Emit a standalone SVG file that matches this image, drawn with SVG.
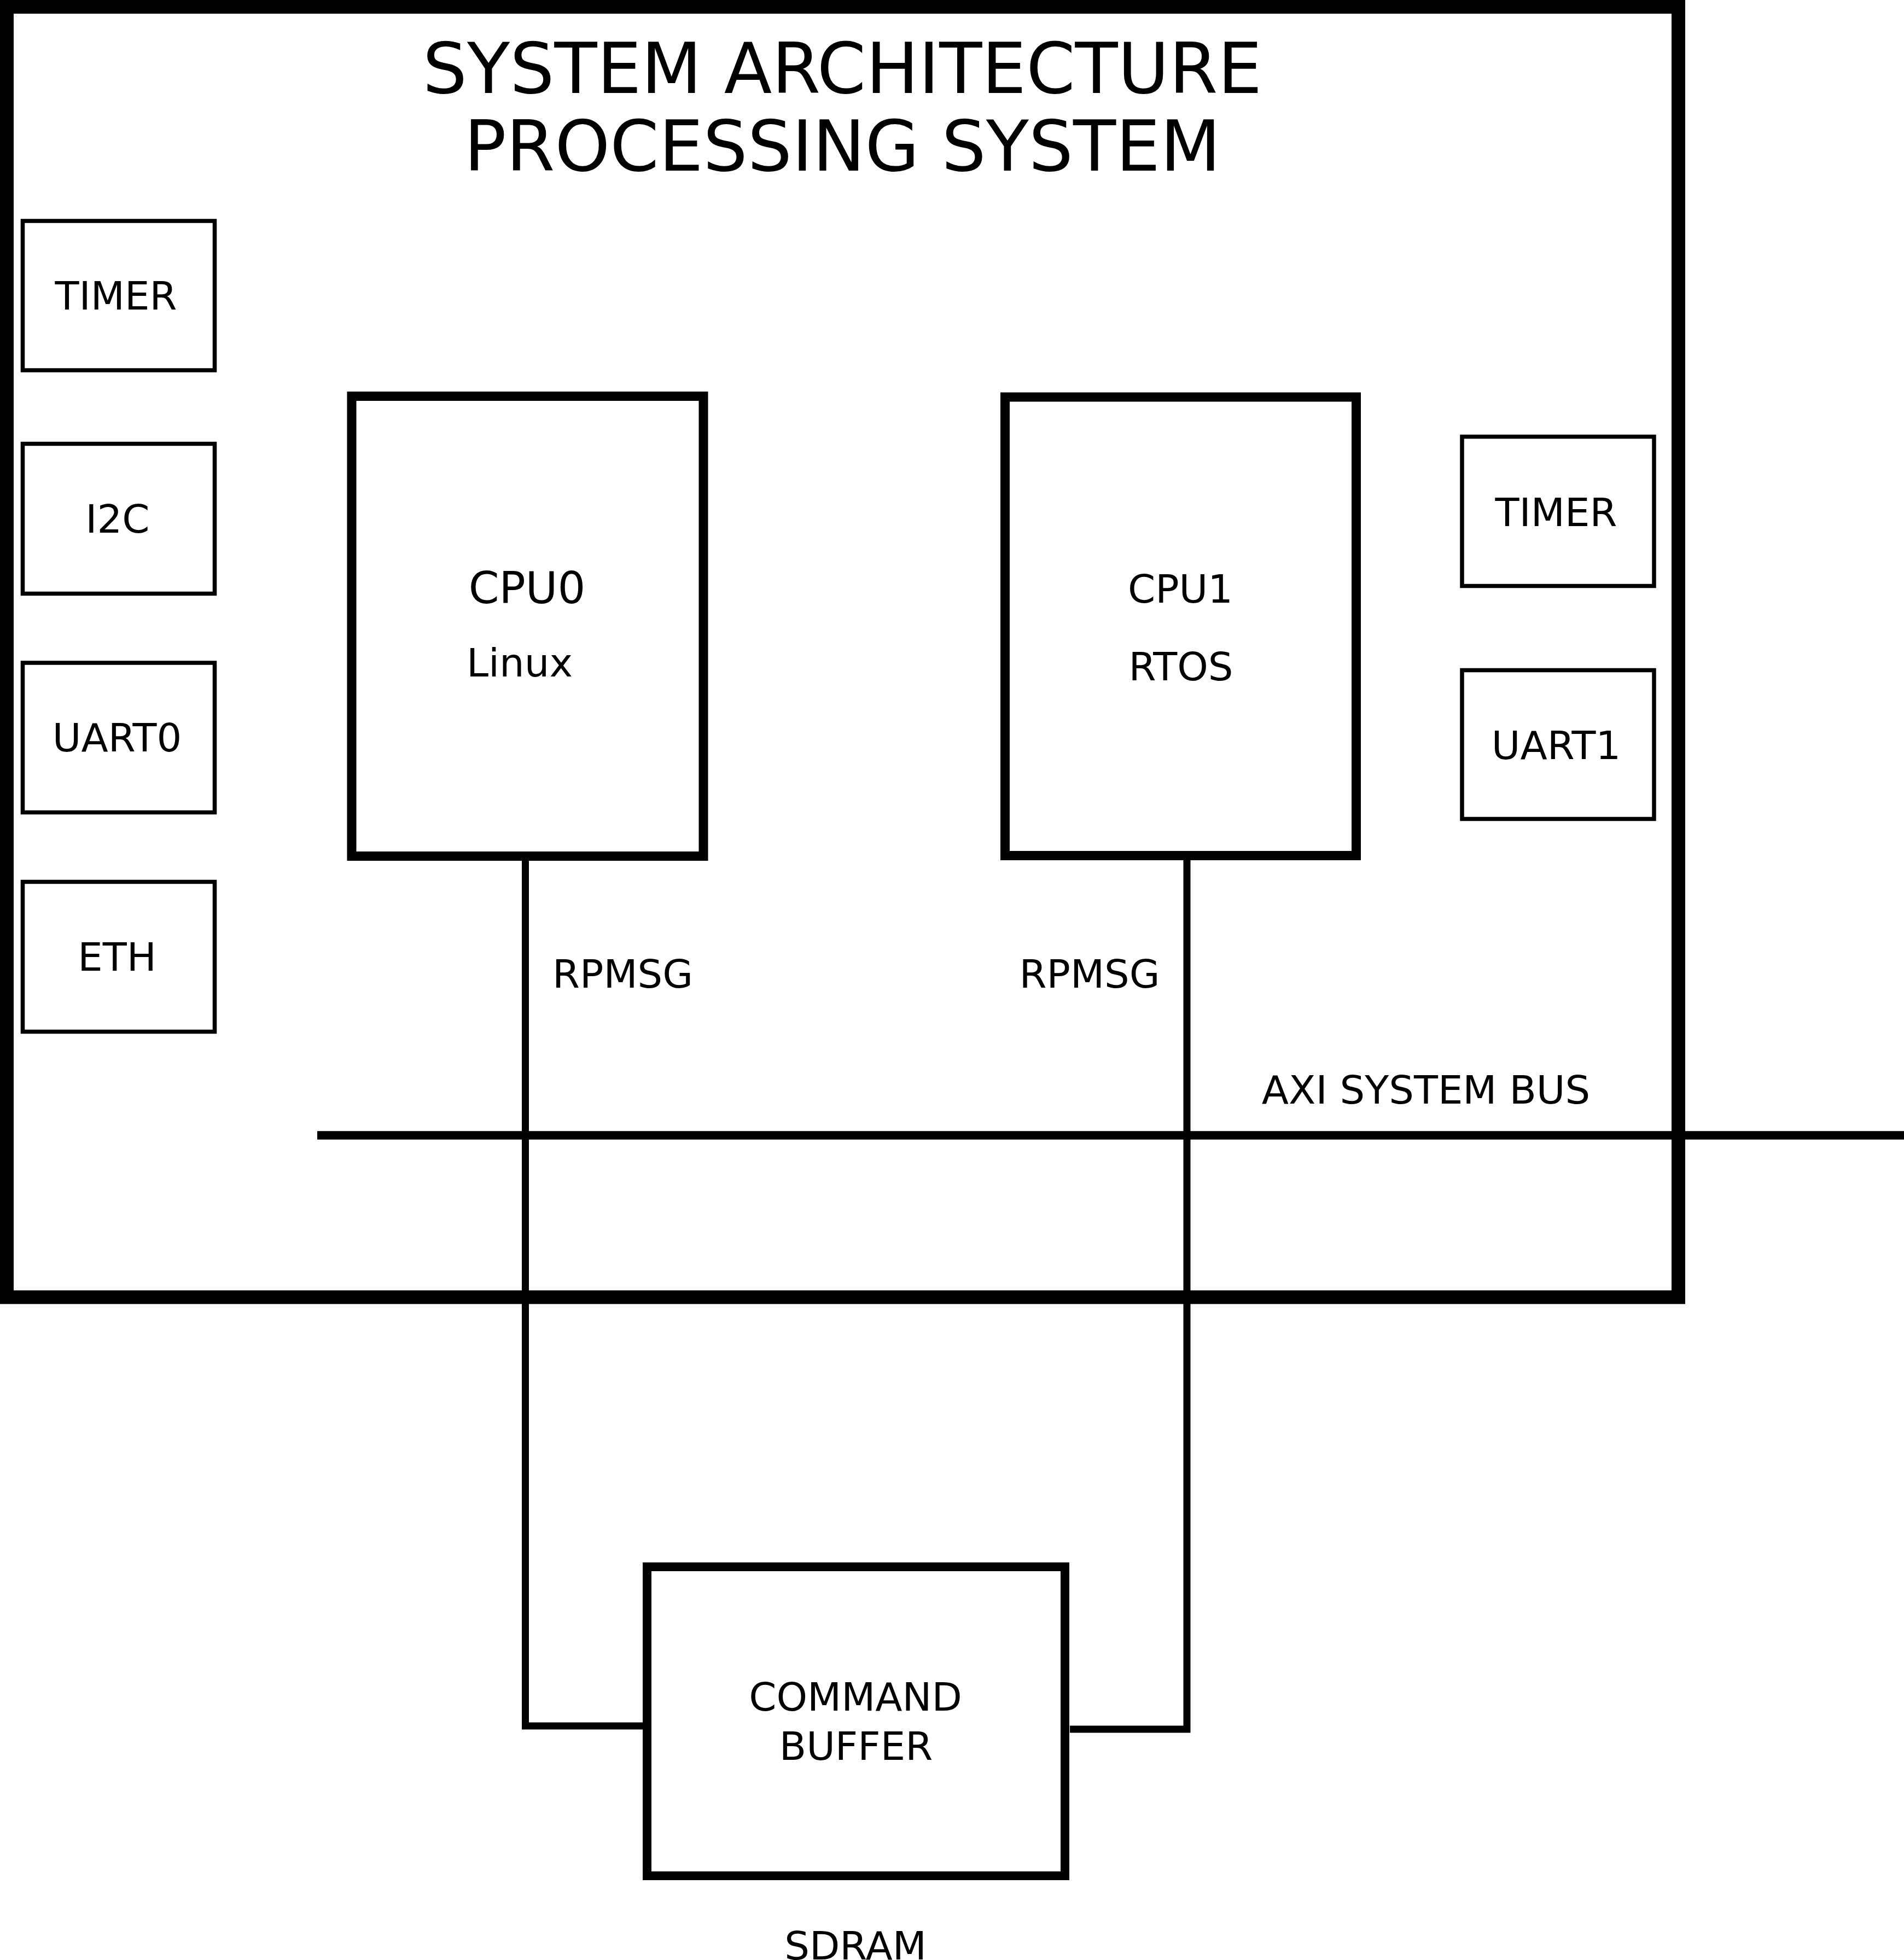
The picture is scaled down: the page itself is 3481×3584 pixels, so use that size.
<svg xmlns="http://www.w3.org/2000/svg" width="3481" height="3584" viewBox="0 0 3481 3584">
<style>
text{font-family:"DejaVu Sans","Liberation Sans",sans-serif;fill:#000;text-anchor:middle}
.t72{font-size:72px}
.big{fill:none;stroke:#000;stroke-width:17}
.small{fill:none;stroke:#000;stroke-width:7.5}
.wire{fill:none;stroke:#000;stroke-width:13;stroke-linejoin:miter}
</style>
<rect width="3481" height="3584" fill="#fff"/>
<g id="processing-system">
<rect x="12.5" y="12.5" width="3056" height="2359.5" fill="none" stroke="#000" stroke-width="25"/>
<text x="1540" y="170" font-size="128">SYSTEM ARCHITECTURE</text>
<text x="1540" y="311.5" font-size="128">PROCESSING SYSTEM</text>
</g>
<g id="timer0"><rect class="small" x="41.5" y="404" width="351" height="273"/><text class="t72" x="212" y="566">TIMER</text></g>
<g id="i2c"><rect class="small" x="41.5" y="811.5" width="351" height="274"/><text class="t72" x="215" y="974">I2C</text></g>
<g id="uart0"><rect class="small" x="41.5" y="1212" width="351" height="273.5"/><text class="t72" x="214" y="1374">UART0</text></g>
<g id="eth"><rect class="small" x="41.5" y="1612.5" width="351" height="274"/><text class="t72" x="214" y="1775">ETH</text></g>
<g id="timer1"><rect class="small" x="2673" y="798.5" width="351" height="273"/><text class="t72" x="2845" y="962">TIMER</text></g>
<g id="uart1"><rect class="small" x="2673" y="1225.5" width="351" height="272"/><text class="t72" x="2845" y="1388">UART1</text></g>
<g id="cpu0"><rect class="big" x="643" y="724.5" width="643" height="841"/><text x="963.5" y="1103" font-size="80">CPU0</text><text class="t72" x="950" y="1237">Linux</text></g>
<g id="cpu1"><rect class="big" x="1837.5" y="726" width="642" height="838.5"/><text class="t72" x="2158" y="1102">CPU1</text><text class="t72" x="2159" y="1244">RTOS</text></g>
<g id="command-buffer"><rect x="1183" y="2865" width="764" height="565" fill="none" stroke="#000" stroke-width="16"/><text class="t72" x="1564" y="3128">COMMAND</text><text class="t72" x="1565" y="3218">BUFFER</text></g>
<g id="sdram-label"><text class="t72" x="1564" y="3583">SDRAM</text></g>
<g id="connectors">
<line x1="580" y1="2076" x2="3481" y2="2076" stroke="#000" stroke-width="15.5"/>
<path class="wire" d="M960.5 1573 V3156 H1175"/>
<path class="wire" d="M2170 1573 V3162 H1956"/>
<text class="t72" x="1138.5" y="1806">RPMSG</text>
<text class="t72" x="1992" y="1806">RPMSG</text>
<text class="t72" x="2607" y="2018">AXI SYSTEM BUS</text>
</g>
</svg>
